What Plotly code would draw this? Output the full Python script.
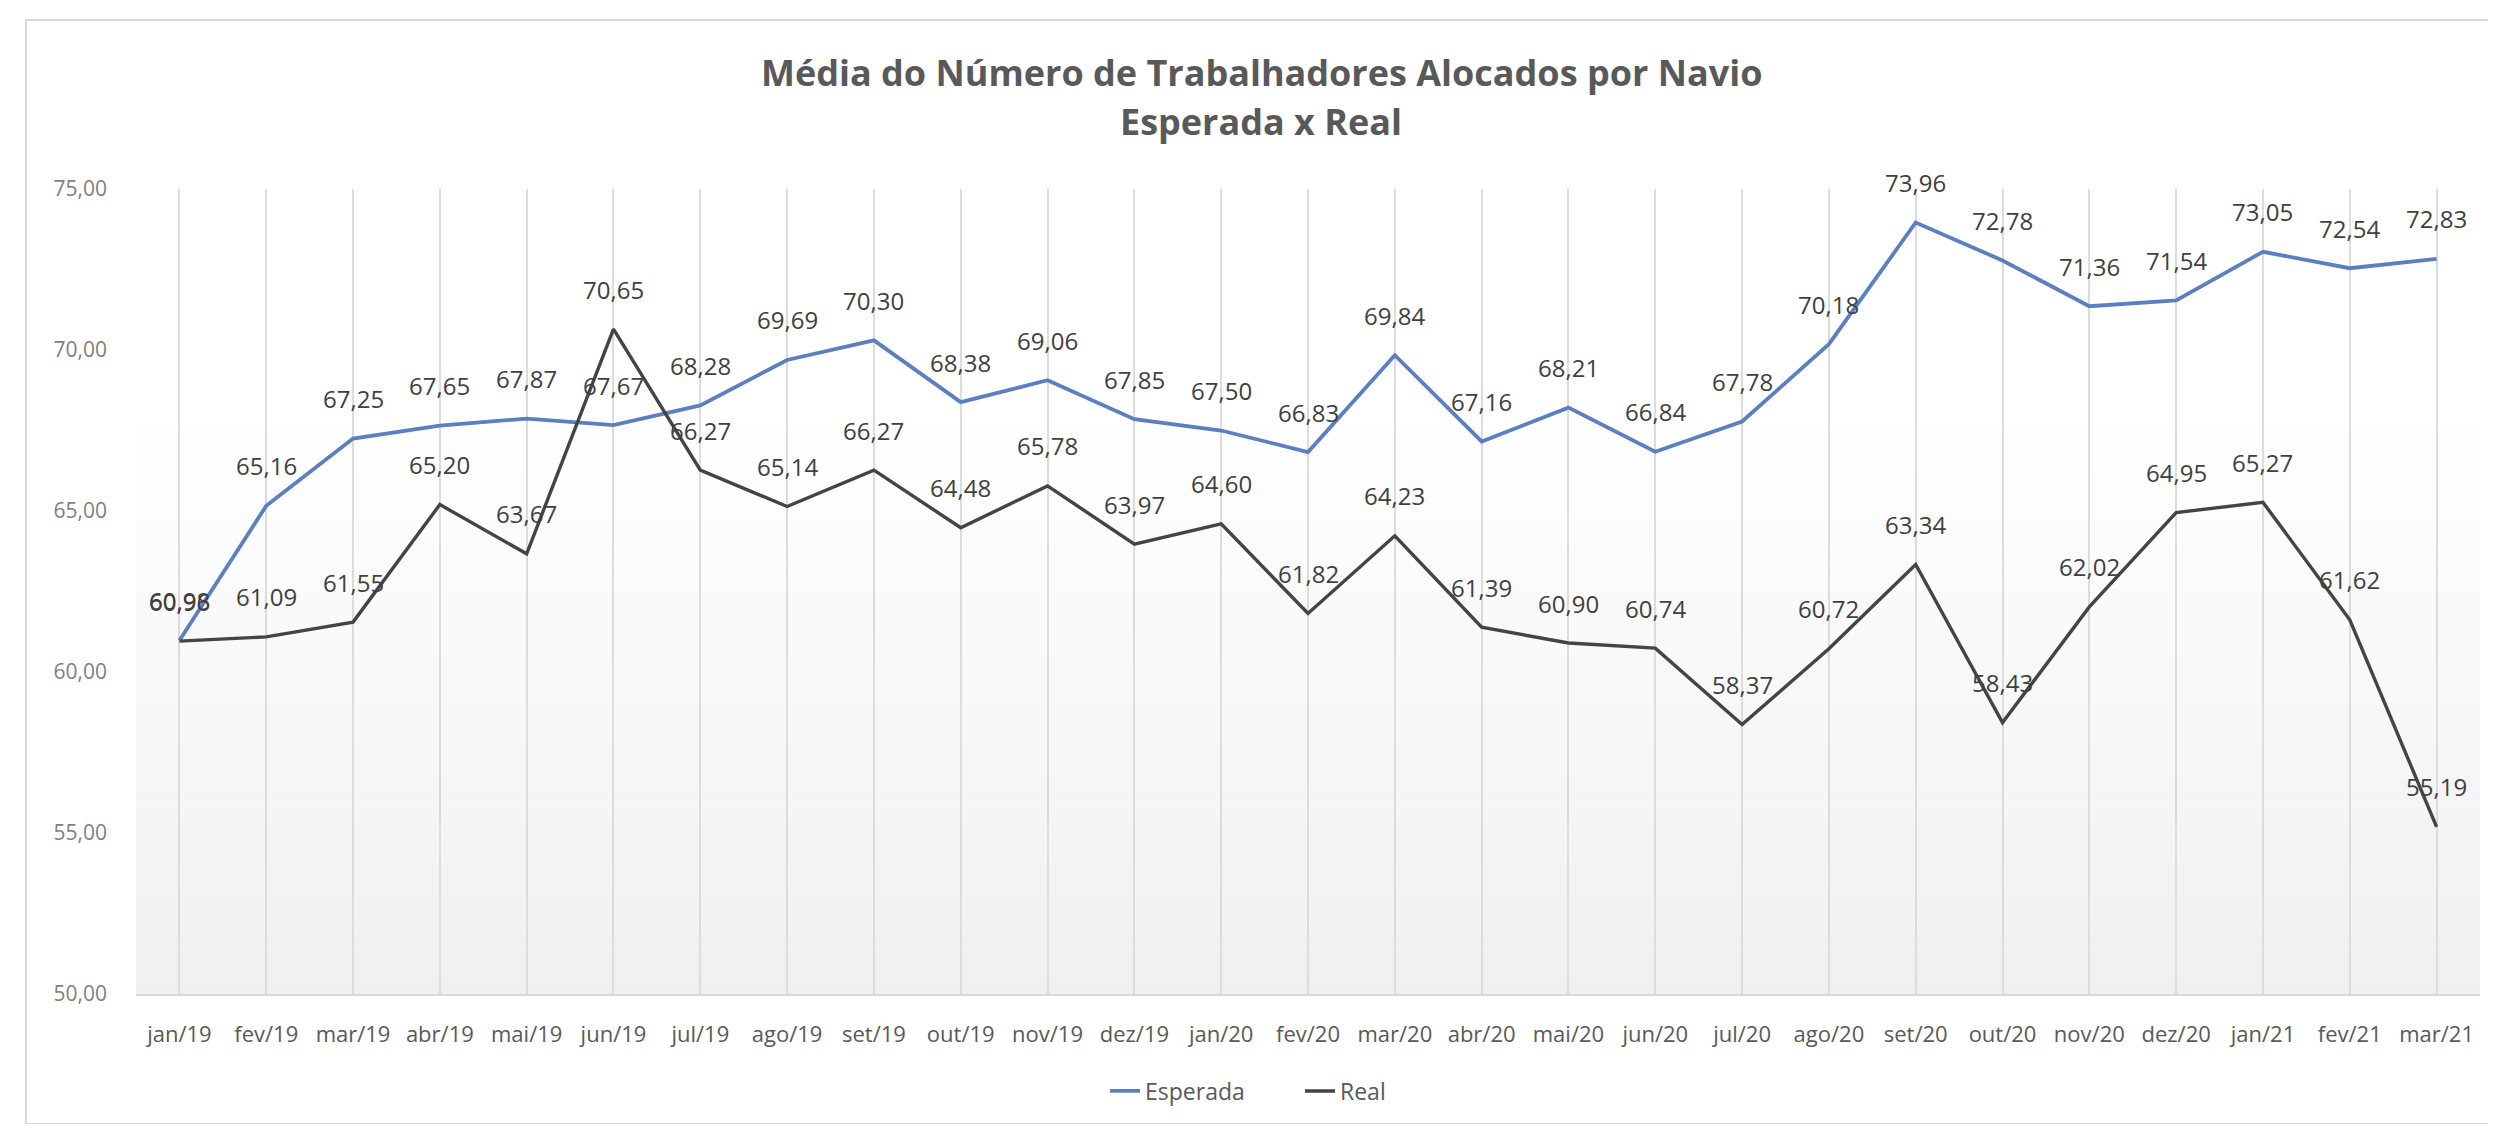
import plotly.graph_objects as go

meses = ["jan/19", "fev/19", "mar/19", "abr/19", "mai/19", "jun/19", "jul/19", "ago/19", "set/19",
         "out/19", "nov/19", "dez/19", "jan/20", "fev/20", "mar/20", "abr/20", "mai/20", "jun/20",
         "jul/20", "ago/20", "set/20", "out/20", "nov/20", "dez/20", "jan/21", "fev/21", "mar/21"]

esperada = [60.98, 65.16, 67.25, 67.65, 67.87, 67.67, 68.28, 69.69, 70.30, 68.38, 69.06, 67.85, 67.50,
            66.83, 69.84, 67.16, 68.21, 66.84, 67.78, 70.18, 73.96, 72.78, 71.36, 71.54, 73.05, 72.54, 72.83]

real = [60.96, 61.09, 61.55, 65.20, 63.67, 70.65, 66.27, 65.14, 66.27, 64.48, 65.78, 63.97, 64.60,
        61.82, 64.23, 61.39, 60.90, 60.74, 58.37, 60.72, 63.34, 58.43, 62.02, 64.95, 65.27, 61.62, 55.19]

y_ticks = [50, 55, 60, 65, 70, 75]

FONT = "Open Sans"
W, H = 2496, 1124
L, R, T, B = 128, 2472, 181, 986  # plot area in pixels

def px(p):
    return (p - L) / (R - L)

def py(p):
    return (B - p) / (B - T)

def br(v):
    return f"{v:.2f}".replace(".", ",")

fig = go.Figure()

fig.add_trace(go.Scatter(x=meses, y=esperada, name="Esperada", mode="lines",
                         line=dict(color="#5b7fc0", width=3.8), hoverinfo="x+y"))
fig.add_trace(go.Scatter(x=meses, y=real, name="Real", mode="lines",
                         line=dict(color="#444444", width=3.4), hoverinfo="x+y"))

annotations = []
for serie in (esperada, real):
    for m, v in zip(meses, serie):
        annotations.append(dict(x=m, y=v, text=br(v), showarrow=False, yshift=40,
                                font=dict(family=FONT, size=24, color="#404040")))

annotations.append(dict(xref="paper", yref="paper", x=px(1253), y=py(64),
                        text="<b>Média do Número de Trabalhadores Alocados por Navio</b>",
                        showarrow=False, xanchor="center", yanchor="middle",
                        font=dict(family=FONT, size=36, color="#595959")))
annotations.append(dict(xref="paper", yref="paper", x=px(1253), y=py(114),
                        text="<b>Esperada x Real</b>",
                        showarrow=False, xanchor="center", yanchor="middle",
                        font=dict(family=FONT, size=36, color="#595959")))

shapes = []
# subtle vertical gradient in plot area (white on top -> light gray at bottom)
n = 40
top_frac = 0.72
for i in range(n):
    f0 = top_frac * i / n
    f1 = top_frac * (i + 1) / n
    t = 1 - (i + 0.5) / n
    g = int(round(255 - 15 * t))
    shapes.append(dict(type="rect", xref="x domain", yref="y domain", x0=0, x1=1, y0=f0, y1=f1,
                       fillcolor=f"rgb({g},{g},{g})", line=dict(width=0), layer="below"))
# outer chart frame
shapes.append(dict(type="rect", xref="paper", yref="paper", x0=px(18), x1=px(2484), y0=py(1116), y1=py(12),
                   line=dict(color="#d9d9d9", width=2), fillcolor="rgba(0,0,0,0)", layer="below"))

fig.update_layout(
    width=W, height=H,
    margin=dict(l=L, r=W - R, t=T, b=H - B, autoexpand=False),
    paper_bgcolor="white", plot_bgcolor="rgba(0,0,0,0)",
    font=dict(family=FONT, color="#595959"),
    showlegend=True,
    legend=dict(orientation="h", x=px(1292), y=py(1083), xanchor="center", yanchor="middle",
                font=dict(family=FONT, size=23, color="#595959"), traceorder="normal",
                entrywidth=150, entrywidthmode="pixels"),
    annotations=annotations,
    shapes=shapes,
    hovermode="closest",
)

fig.update_xaxes(type="category", categoryorder="array", categoryarray=meses,
                 range=[-0.5, len(meses) - 0.5], automargin=False,
                 showgrid=True, gridcolor="#dcdcdc", gridwidth=1.5,
                 showline=True, linecolor="#d9d9d9", linewidth=1.5,
                 ticks="", tickfont=dict(family=FONT, size=22, color="#595959"),
                 ticklabelstandoff=20, zeroline=False)

fig.update_yaxes(range=[50, 75], tickvals=y_ticks, ticktext=[br(v) for v in y_ticks],
                 automargin=False,
                 showgrid=False, zeroline=False, showline=False, ticks="",
                 tickfont=dict(family=FONT, size=21, color="#7f7f7f"), ticklabelstandoff=28)

fig.write_html("out.html")
